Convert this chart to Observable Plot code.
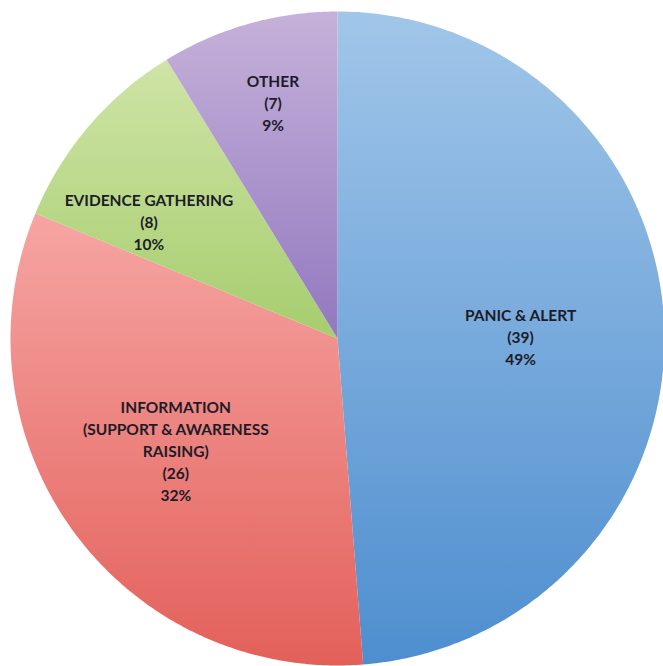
<!DOCTYPE html>
<html>
<head>
<meta charset="utf-8">
<script src="https://cdn.jsdelivr.net/npm/d3@7"></script>
<script src="https://cdn.jsdelivr.net/npm/@observablehq/plot@0.6"></script>
<style>
  html, body { margin: 0; padding: 0; background: #ffffff; }
  #chart svg { display: block; }
</style>
</head>
<body>
<div id="chart"></div>
<script>
// Data (clockwise from 12 o'clock)
const categories = ["PANIC & ALERT", "INFORMATION\n(SUPPORT & AWARENESS\nRAISING)", "EVIDENCE GATHERING", "OTHER"];
const counts = [39, 26, 8, 7];
const percentLabels = ["49%", "32%", "10%", "9%"];
// Gradient colours (top, bottom) per slice
const colorTop = ["#a1c6e9", "#f6a5a3", "#cfe4a6", "#c6b1da"];
const colorBottom = ["#4e8ecf", "#e3605a", "#a6cd6e", "#9278bf"];

// Layout (not data): label distance from centre as a fraction of the radius,
// and a small rotation (degrees) off each slice's mid-angle
const labelRadius = [0.56, 0.60, 0.68, 0.75];
const labelTurn = [1.5, 1.5, -8.5, 0.5];

const W = 663, H = 666;
const cx = 337, cy = 338, R = 327; // layout in pixels

const pie = d3.pie().sort(null).value(d => d)(counts);

// Slice polygons in unit-circle coordinates
const slicePts = [];
pie.forEach((a, i) => {
  const n = Math.max(8, Math.ceil((a.endAngle - a.startAngle) / 0.01));
  slicePts.push({i, x: 0, y: 0});
  for (let k = 0; k <= n; k++) {
    const t = a.startAngle + (a.endAngle - a.startAngle) * k / n;
    slicePts.push({i, x: Math.sin(t), y: Math.cos(t)});
  }
  slicePts.push({i, x: 0, y: 0});
});

const labels = pie.map((a, i) => {
  const mid = (a.startAngle + a.endAngle) / 2 + labelTurn[i] * Math.PI / 180;
  const r = labelRadius[i];
  return {
    x: r * Math.sin(mid),
    y: r * Math.cos(mid),
    text: `${categories[i]}\n(${counts[i]})\n${percentLabels[i]}`
  };
});

const defsMark = () => {
  const defs = d3.create("svg:defs");
  counts.forEach((_, i) => {
    const g = defs.append("linearGradient")
      .attr("id", "slice-grad-" + i)
      .attr("x1", 0).attr("y1", 0).attr("x2", 0).attr("y2", 1);
    g.append("stop").attr("offset", "0%").attr("stop-color", colorTop[i]);
    g.append("stop").attr("offset", "100%").attr("stop-color", colorBottom[i]);
  });
  return defs.node();
};

const chart = Plot.plot({
  width: W,
  height: H,
  margin: 0,
  x: {domain: [-cx / R, (W - cx) / R], axis: null},
  y: {domain: [-(H - cy) / R, cy / R], axis: null},
  color: {type: "identity"},
  style: {background: "#ffffff"},
  marks: [
    defsMark,
    Plot.line(slicePts, {
      x: "x", y: "y", z: "i",
      fill: d => `url(#slice-grad-${d.i})`,
      stroke: "none",
      curve: "linear"
    }),
    Plot.text(labels, {
      x: "x", y: "y", text: "text",
      fontFamily: "Lato, 'Open Sans', sans-serif",
      fontWeight: "bold",
      fontSize: 15.5,
      lineHeight: 1.42,
      fill: "#1c1c28",
      textAnchor: "middle"
    })
  ]
});

document.getElementById("chart").appendChild(chart);
</script>
</body>
</html>
